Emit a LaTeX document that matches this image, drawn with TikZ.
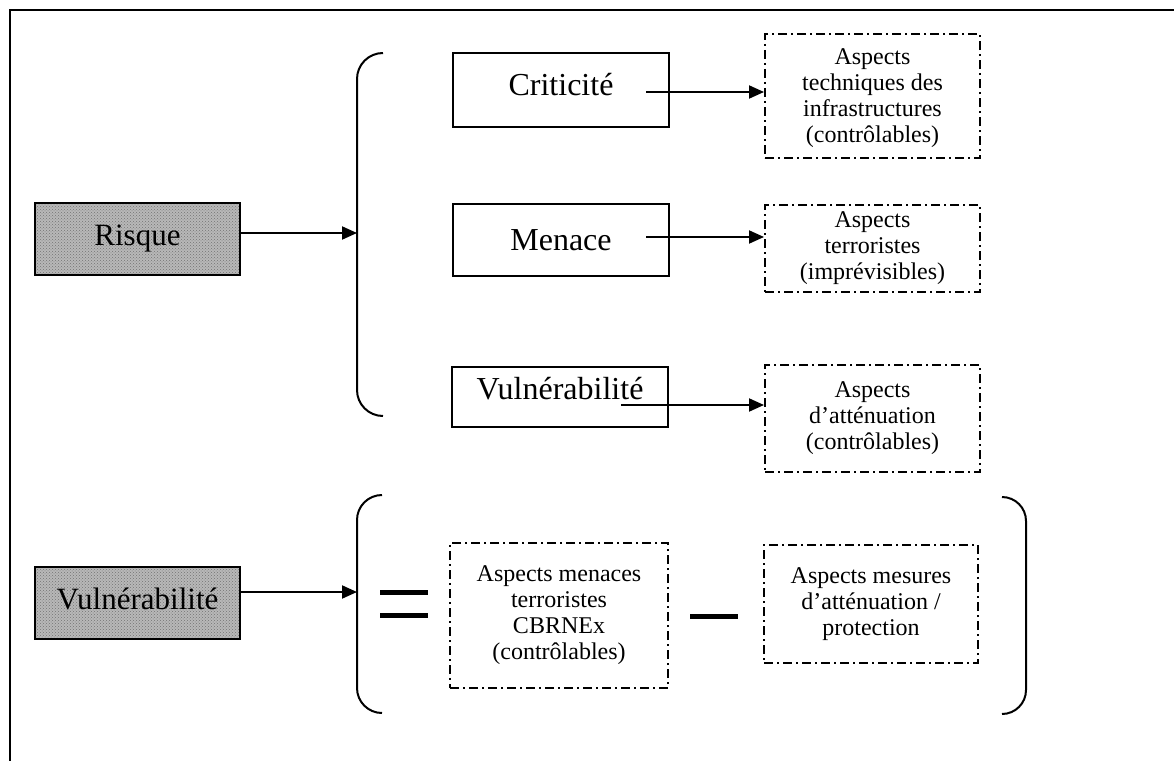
\documentclass[tikz,border=0pt]{standalone}
\usepackage{fontspec}
\setmainfont{Liberation Serif}
\usetikzlibrary{arrows.meta,calc,patterns}
\begin{document}
\begin{tikzpicture}[x=1pt,y=-1pt,
  big/.style={font=\fontsize{32}{34}\selectfont},
  small/.style={font=\fontsize{24}{26}\selectfont,align=center},
  solidbox/.style={draw,line width=2pt,inner sep=0pt,big},
  shadebox/.style={solidbox,preaction={fill=black!28},
    pattern=crosshatch dots,pattern color=black!55,
    font=\fontsize{31}{33}\selectfont,text height=24pt,text depth=12pt},
  dashbox/.style={draw,line width=2pt,inner sep=0pt,small,
    dash pattern=on 9pt off 4pt on 2pt off 4pt},
  link/.style={line width=2pt,-{Triangle[length=15pt,width=13pt]}},
  bracket/.style={line width=2pt},
  bar/.style={line width=5pt}]
\useasboundingbox (0,0) rectangle (1174,760);
\begin{scope}
\clip (0,0) rectangle (1174,760);
% outer frame
\draw[line width=2pt] (10,10) rectangle (1190,790);
\end{scope}

% left labels
\node[shadebox,minimum width=205pt,minimum height=72pt] (risk) at (137.5,239) {Risque};
\node[shadebox,minimum width=205pt,minimum height=72pt] (vulnL) at (137.5,603) {Vulnérabilité};

% upper brace
\draw[bracket,rounded corners=26pt] (383,53) -| (357,416) -- (383,416);
\coordinate (b1) at (357,53);

% three factors
\node[solidbox,minimum width=216pt,minimum height=74pt,
  text height=24pt,text depth=14pt] (crit) at (561,90) {Criticité};
\node[solidbox,minimum width=216pt,minimum height=72pt] (men) at (561,240) {Menace};
\node[solidbox,minimum width=216pt,minimum height=60pt,
  text height=24pt,text depth=20pt] (vulnM) at (560,397) {Vulnérabilité};

% aspects
\node[dashbox,minimum width=215pt,minimum height=124pt,text depth=0pt] (asp1) at (872.5,96)
  {Aspects\\techniques des\\infrastructures\\(contrôlables)};
\node[dashbox,minimum width=215pt,minimum height=87pt] (asp2) at (872.5,248.5)
  {Aspects\\terroristes\\(imprévisibles)};
\node[dashbox,minimum width=215pt,minimum height=107pt] (asp3) at (872.5,418.5)
  {Aspects\\d’atténuation\\(contrôlables)};

\draw[link] ([yshift=6pt]risk.east) -- ([yshift=6pt]risk.east -| b1);
\draw[link] ([xshift=-24pt,yshift=-2pt]crit.east) -- ([yshift=-2pt]crit.east -| asp1.west);
\draw[link] ([xshift=-24pt,yshift=3pt]men.east) -- ([yshift=3pt]men.east -| asp2.west);
\draw[link] ([xshift=-48pt,yshift=-8pt]vulnM.east) -- ([yshift=-8pt]vulnM.east -| asp3.west);

% lower equation
\draw[bracket,rounded corners=25pt] (382,495) -| (357,713) -- (382,713);
\draw[bracket,rounded corners=24pt] (1002,497) -| (1026,714) -- (1002,714);
\coordinate (b2) at (357,495);
\draw[link] ([yshift=11pt]vulnL.east) -- ([yshift=11pt]vulnL.east -| b2);

\coordinate (eqA) at (380,592); \coordinate (eqB) at (428,592);
\coordinate (eqC) at (380,615); \coordinate (eqD) at (428,615);
\draw[bar] (eqA) -- (eqB);
\draw[bar] (eqC) -- (eqD);
\coordinate (mnA) at (690,616); \coordinate (mnB) at (738,616);
\draw[bar] (mnA) -- (mnB);

\node[dashbox,minimum width=218pt,minimum height=145pt] (thr) at (559,615.5)
  {Aspects menaces\\terroristes\\CBRNEx\\(contrôlables)};
\node[dashbox,minimum width=214pt,minimum height=118pt] (prot) at (871,604)
  {Aspects mesures\\d’atténuation /\\protection};
\end{tikzpicture}
\end{document}
